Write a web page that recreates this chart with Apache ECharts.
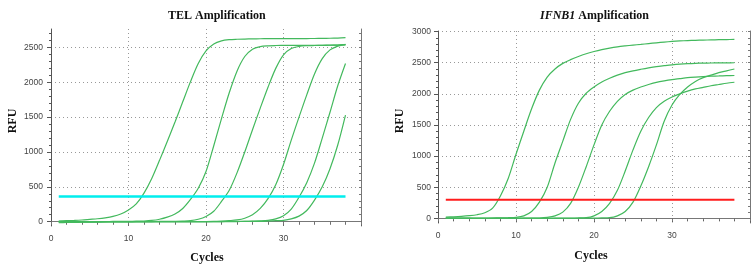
<!DOCTYPE html>
<html>
<head>
<meta charset="utf-8">
<script src="https://cdn.jsdelivr.net/npm/echarts@6/dist/echarts.min.js"></script>
<style>
  html, body { margin: 0; padding: 0; background: #fff; }
  #chart { width: 756px; height: 269px; }
</style>
</head>
<body>
<div id="chart"></div>
<script>
const cycles = [1, 2, 3, 4, 5, 6, 7, 8, 9, 10, 11, 12, 13, 14, 15, 16, 17, 18, 19, 20,
  21, 22, 23, 24, 25, 26, 27, 28, 29, 30, 31, 32, 33, 34, 35, 36, 37, 38];

// TEL amplification curves (RFU per cycle)
const tel1 = [10, 14, 18, 24, 33, 42, 55, 75, 110, 168, 255, 410, 620, 880, 1150, 1430, 1720, 2010, 2270, 2450,
  2550, 2595, 2612, 2618, 2621, 2623, 2625, 2626, 2626, 2627, 2627, 2628, 2628, 2629, 2630, 2632, 2635, 2640];
const tel2 = [5, 4, 3, 2, 2, 2, 2, 3, 4, 5, 7, 10, 18, 35, 65, 110, 190, 320, 480, 720,
  1090, 1480, 1850, 2160, 2370, 2475, 2512, 2524, 2528, 2529, 2530, 2530, 2531, 2532, 2532, 2533, 2535, 2538];
const tel3 = [0, -2, -3, -3, -2, -2, -1, 0, 0, 0, 1, 1, 2, 3, 4, 6, 9, 15, 35, 75,
  150, 290, 450, 700, 1000, 1320, 1630, 1930, 2200, 2395, 2485, 2515, 2525, 2528, 2530, 2532, 2535, 2540];
const tel4 = [-15, -12, -10, -8, -6, -5, -4, -3, -2, -2, -1, -1, 0, 0, 0, 0, 1, 1, 2, 2,
  3, 8, 15, 25, 50, 100, 190, 330, 530, 820, 1170, 1500, 1820, 2120, 2340, 2465, 2520, 2545];
const tel5 = [0, 0, -1, -1, -1, -1, -1, 0, 0, 0, 0, 0, 0, 0, 0, 0, 0, 0, 1, 1,
  2, 2, 3, 4, 5, 8, 12, 20, 40, 85, 180, 350, 560, 840, 1200, 1570, 1950, 2270];
const tel6 = [-5, -3, -2, -1, 0, 0, 0, 0, 0, 0, 0, 0, 0, 0, 0, 0, 0, 0, 0, 0,
  0, 1, 1, 2, 3, 4, 5, 10, 15, 20, 40, 80, 160, 310, 500, 760, 1100, 1530];
const telThreshold = 360;

// IFNB1 amplification curves
const ifnb1 = [20, 25, 32, 42, 58, 90, 165, 360, 640, 1030, 1400, 1760, 2060, 2270, 2400, 2490, 2550, 2600, 2645, 2680,
  2710, 2735, 2755, 2770, 2783, 2795, 2808, 2820, 2832, 2842, 2850, 2856, 2860, 2864, 2867, 2870, 2872, 2875];
const ifnb2 = [5, 4, 3, 3, 3, 4, 5, 7, 10, 15, 40, 110, 260, 500, 890, 1240, 1590, 1850, 2010, 2110,
  2190, 2250, 2300, 2340, 2370, 2395, 2418, 2438, 2453, 2467, 2478, 2486, 2491, 2494, 2496, 2498, 2499, 2500];
const ifnb3 = [3, 2, 1, 0, 0, 0, 0, 0, 1, 1, 2, 3, 5, 15, 40, 100, 240, 500, 830, 1180,
  1500, 1720, 1880, 1990, 2060, 2110, 2150, 2185, 2210, 2230, 2245, 2260, 2270, 2278, 2284, 2288, 2292, 2295];
const ifnb4 = [0, -1, -2, -2, -2, -2, -1, -1, 0, 0, 0, 0, 1, 1, 2, 3, 4, 6, 10, 40,
  110, 240, 450, 760, 1100, 1400, 1620, 1780, 1880, 1950, 2000, 2045, 2080, 2105, 2130, 2150, 2170, 2187];
const ifnb5 = [0, -1, -2, -2, -3, -3, -2, -2, -1, -1, 0, 0, 0, 0, 1, 1, 1, 2, 3, 4,
  6, 10, 40, 110, 260, 520, 830, 1180, 1560, 1820, 1990, 2110, 2200, 2260, 2300, 2340, 2370, 2400];
const ifnbThreshold = 300;

const xTicks = [0, 10, 20, 30];
const telYTicks = [0, 500, 1000, 1500, 2000, 2500];
const ifnbYTicks = [0, 500, 1000, 1500, 2000, 2500, 3000];

const green = "#43b95d";
const serif = "Liberation Serif";
const labelStyle = {
  fontFamily: "Liberation Sans", fontSize: 8.5, color: "#444",
  formatter: (v) => String(v),
};
const dotted = { lineStyle: { color: "#999", type: [1, 3], width: 1 } };

const minorVals = (max) => {
  const out = [];
  for (let v = 0; v <= max; v += 100) out.push(v);
  return out;
};

const pairs = (arr) => cycles.map((c, i) => [c, arr[i]]);

function curveSeries(arr, axisIdx) {
  return {
    type: "line",
    xAxisIndex: axisIdx.x,
    yAxisIndex: axisIdx.y,
    data: pairs(arr),
    showSymbol: false,
    smooth: 0.3,
    lineStyle: { color: green, width: 1.2 },
    silent: true,
  };
}

function thresholdSeries(value, color, width, axisIdx) {
  return {
    type: "line",
    xAxisIndex: axisIdx.x,
    yAxisIndex: axisIdx.y,
    data: [[cycles[0], value], [cycles[cycles.length - 1], value]],
    showSymbol: false,
    lineStyle: { color, width },
    silent: true,
    z: 3,
  };
}

// one panel = bottom/top x axes + left major/left minor/right y axes
function xAxes(gridIndex) {
  return [
    {
      gridIndex, type: "value", position: "bottom", min: 0, max: 40, interval: 10,
      axisLine: { lineStyle: { color: "#555" } },
      axisTick: { length: 4, lineStyle: { color: "#555" } },
      minorTick: { show: true, splitNumber: 5, length: 3, lineStyle: { color: "#555" } },
      axisLabel: { ...labelStyle, margin: 8, customValues: xTicks },
      splitLine: { show: true, ...dotted },
    },
    {
      gridIndex, type: "value", position: "top", min: 0, max: 40, interval: 10,
      axisLine: { lineStyle: { color: "#777" } },
      axisTick: { inside: true, length: 3, lineStyle: { color: "#777" } },
      minorTick: { show: true, splitNumber: 5, length: 2, lineStyle: { color: "#777" } },
      axisLabel: { show: false },
      splitLine: { show: false },
    },
  ];
}

function yAxes(gridIndex, min, max, ticks, margin) {
  return [
    {
      gridIndex, type: "value", position: "left", min, max,
      axisLine: { show: true, lineStyle: { color: "#555" } },
      axisTick: { show: true, length: 4, customValues: ticks, lineStyle: { color: "#555" } },
      axisLabel: { ...labelStyle, margin, customValues: ticks },
      splitLine: { show: true, ...dotted },
    },
    {
      gridIndex, type: "value", position: "left", min, max,
      axisLine: { show: false },
      axisTick: { show: true, length: 2, customValues: minorVals(max), lineStyle: { color: "#555" } },
      axisLabel: { show: false },
      splitLine: { show: false },
    },
    {
      gridIndex, type: "value", position: "right", min, max,
      axisLine: { show: true, lineStyle: { color: "#777" } },
      axisTick: { show: true, inside: true, length: 2, customValues: minorVals(max), lineStyle: { color: "#777" } },
      axisLabel: { show: false },
      splitLine: { show: false },
    },
  ];
}

const telAxes = { x: 0, y: 0 };
const ifnbAxes = { x: 2, y: 3 };

const options = {
  animation: false,
  backgroundColor: "#fff",
  title: [
    {
      text: "TEL Amplification", left: 163, top: 5,
      textStyle: { fontFamily: serif, fontSize: 12, fontWeight: "bold", color: "#111" },
    },
    {
      text: "{i|IFNB1} Amplification", left: 535, top: 5,
      textStyle: {
        fontFamily: serif, fontSize: 12, fontWeight: "bold", color: "#111",
        rich: { i: { fontFamily: serif, fontSize: 12, fontWeight: "bold", fontStyle: "italic", color: "#111" } },
      },
    },
  ],
  grid: [
    { left: 51, top: 29, width: 310, height: 197 },
    { left: 438, top: 31, width: 312, height: 192 },
  ],
  xAxis: [...xAxes(0), ...xAxes(1)],
  yAxis: [
    ...yAxes(0, -62, 2765, telYTicks, 8),
    ...yAxes(1, -75, 3010, ifnbYTicks, 7),
  ],
  series: [
    ...[tel1, tel2, tel3, tel4, tel5, tel6].map((s) => curveSeries(s, telAxes)),
    thresholdSeries(telThreshold, "#00eeee", 2.5, telAxes),
    ...[ifnb1, ifnb2, ifnb3, ifnb4, ifnb5].map((s) => curveSeries(s, ifnbAxes)),
    thresholdSeries(ifnbThreshold, "#ff1c1c", 2, ifnbAxes),
  ],
  graphic: [
    { type: "text", x: 13, y: 121, rotation: Math.PI / 2,
      style: { text: "RFU", align: "center", verticalAlign: "middle", font: `bold 12px "${serif}"`, fill: "#111" } },
    { type: "text", x: 400, y: 121, rotation: Math.PI / 2,
      style: { text: "RFU", align: "center", verticalAlign: "middle", font: `bold 12px "${serif}"`, fill: "#111" } },
    { type: "text", x: 207, y: 257.5,
      style: { text: "Cycles", align: "center", verticalAlign: "middle", font: `bold 12px "${serif}"`, fill: "#111" } },
    { type: "text", x: 591, y: 256,
      style: { text: "Cycles", align: "center", verticalAlign: "middle", font: `bold 12px "${serif}"`, fill: "#111" } },
  ],
};

const myChart = echarts.init(document.getElementById("chart"));
myChart.setOption(options);
</script>
</body>
</html>
